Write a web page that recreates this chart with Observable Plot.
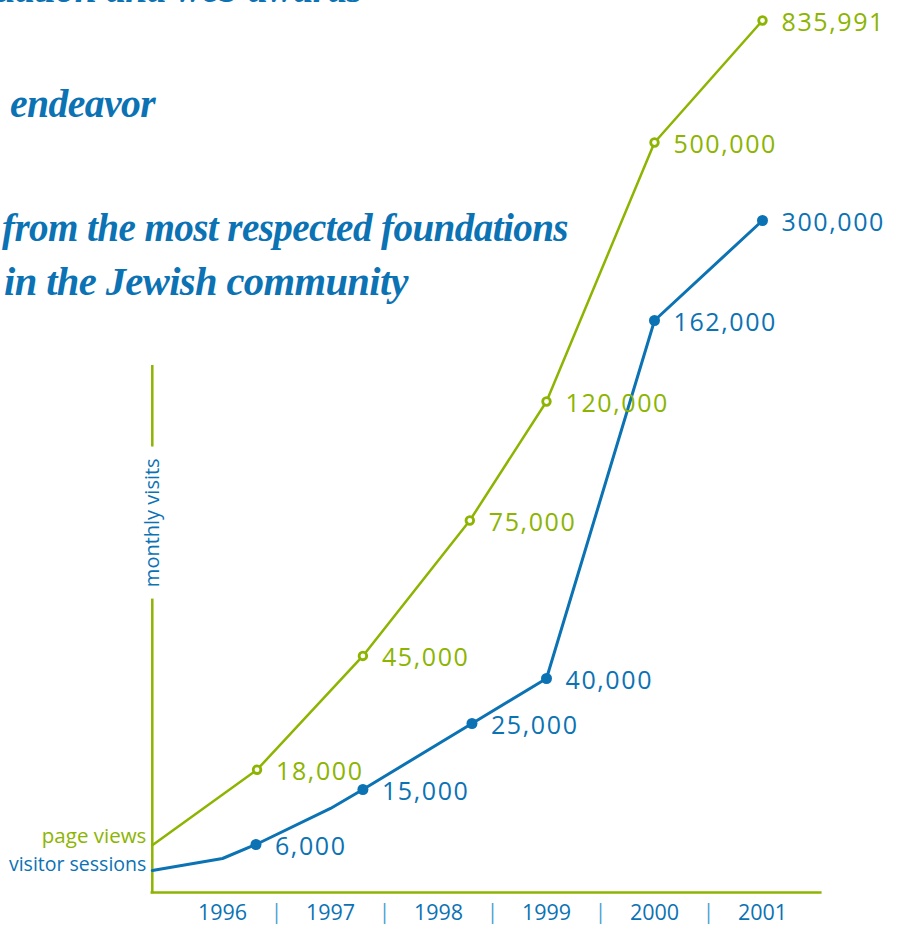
<!DOCTYPE html>
<html>
<head>
<meta charset="utf-8">
<script src="https://cdn.jsdelivr.net/npm/d3@7"></script>
<script src="https://cdn.jsdelivr.net/npm/@observablehq/plot@0.6"></script>
<style>
  html, body { margin: 0; padding: 0; background: #fff; }
  #wrap { position: relative; width: 905px; height: 926px; overflow: hidden; }
  #chart svg { display: block; }
  #heads { position: absolute; left: 0; top: 0; pointer-events: none; }
  #heads text { font-family: "Liberation Serif", "DejaVu Serif", serif; font-weight: bold; font-style: italic; font-size: 40px; fill: #0b72b4; letter-spacing: -0.6px; }
</style>
</head>
<body>
<div id="wrap">
  <div id="chart"></div>
  <svg id="heads" width="905" height="926">
    <text x="362" y="2" text-anchor="end">recognition from foundation and web awards</text>
    <text x="10" y="117" textLength="145" lengthAdjust="spacingAndGlyphs">endeavor</text>
    <text x="2" y="241" textLength="566" lengthAdjust="spacingAndGlyphs">from the most respected foundations</text>
    <text x="4" y="295" textLength="404" lengthAdjust="spacingAndGlyphs">in the Jewish community</text>
  </svg>
</div>
<script>
// ---- data ----
const years = [1996, 1997, 1998, 1999, 2000, 2001];

// page views (first point is the unlabeled start of the line)
const pvDates  = [1995.35, 1996.32, 1997.3, 1998.29, 1999, 2000, 2001];
const pvValues = [5900, 18000, 45000, 75000, 120000, 500000, 835991];
const pvLabeled = [false, true, true, true, true, true, true];

// visitor sessions (unlabeled vertices are line bends)
const vsDates  = [1995.35, 1996, 1996.31, 1997, 1997.3, 1998.31, 1999, 2000, 2001];
const vsValues = [2750, 4250, 6000, 11900, 15000, 25000, 40000, 162000, 300000];
const vsLabeled = [false, false, true, false, true, true, true, true, true];

const seriesNames = ["page views", "visitor sessions"];
const yTitle = "monthly visits";

// ---- build tables ----
const green = "#8cb400";
const blue = "#0b72b4";
const sepBlue = "#4f9fd0";
const fmt = d3.format(",");

const pv = pvDates.map((d, i) => ({date: d, value: pvValues[i], labeled: pvLabeled[i]}));
const vs = vsDates.map((d, i) => ({date: d, value: vsValues[i], labeled: vsLabeled[i]}));
const axisStart = 1995.35, axisEnd = 2001.54, axisTop = 138000, yTitleAt = 74500;

const sans = "'Open Sans', 'Noto Sans', sans-serif";

const chart = Plot.plot({
  width: 905,
  height: 926,
  margin: 0,
  style: {fontFamily: sans, background: "transparent", overflow: "visible"},
  x: {type: "linear", domain: [1996, 2001], range: [222, 762], axis: null},
  y: {
    type: "linear",
    domain: [0, 6000, 15000, 25000, 40000, 75000, 120000, 162000, 300000, 500000, 835991],
    range:  [892, 844, 789, 723, 678, 520, 401, 320, 220, 142, 20],
    axis: null
  },
  marks: [
    // axes
    Plot.ruleY([{y: 0, x1: axisStart, x2: axisEnd}], {y: "y", x1: "x1", x2: "x2", stroke: green, strokeWidth: 2.5, strokeLinecap: "square"}),
    Plot.ruleX([{x: axisStart, y1: 0, y2: axisTop}], {x: "x", y1: "y1", y2: "y2", stroke: green, strokeWidth: 2.5, strokeLinecap: "square"}),
    Plot.text([yTitle], {x: axisStart, y: yTitleAt, text: d => d, rotate: -90, fill: blue, fontSize: 20, stroke: "white", strokeWidth: 26, strokeLinejoin: "miter"}),
    // year labels and separators
    Plot.text(years, {x: d => d, y: 0, dy: 21, text: d => String(d), fill: blue, fontSize: 21.5}),
    Plot.text(years.slice(0, -1), {x: d => d + 0.5, y: 0, dy: 20, text: () => "|", fill: sepBlue, fontSize: 21}),
    // series names
    Plot.text([pv[0]], {x: "date", y: "value", dx: -6, dy: -9, text: () => seriesNames[0], textAnchor: "end", fill: green, fontSize: 20.5}),
    Plot.text([vs[0]], {x: "date", y: "value", dx: -6, dy: -6, text: () => seriesNames[1], textAnchor: "end", fill: blue, fontSize: 19.5}),
    // lines
    Plot.line(pv, {x: "date", y: "value", stroke: green, strokeWidth: 2.5}),
    Plot.line(vs, {x: "date", y: "value", stroke: blue, strokeWidth: 3}),
    // markers
    Plot.dot(pv.filter(d => d.labeled), {x: "date", y: "value", r: 3.8, stroke: green, strokeWidth: 2.8, fill: "white"}),
    Plot.dot(vs.filter(d => d.labeled), {x: "date", y: "value", r: 5.5, fill: blue}),
    // value labels
    Plot.text(pv.filter(d => d.labeled), {x: "date", y: "value", text: d => fmt(d.value), dx: 19, dy: 2, textAnchor: "start", fill: green, fontSize: 25}),
    Plot.text(vs.filter(d => d.labeled), {x: "date", y: "value", text: d => fmt(d.value), dx: 19, dy: 2, textAnchor: "start", fill: blue, fontSize: 25})
  ]
});

d3.select(chart).selectAll("text").filter(function() {
  return /^[0-9,]+$/.test(this.textContent) && this.textContent.length > 4;
}).style("letter-spacing", "1.6px");

document.getElementById("chart").appendChild(chart);
</script>
</body>
</html>
